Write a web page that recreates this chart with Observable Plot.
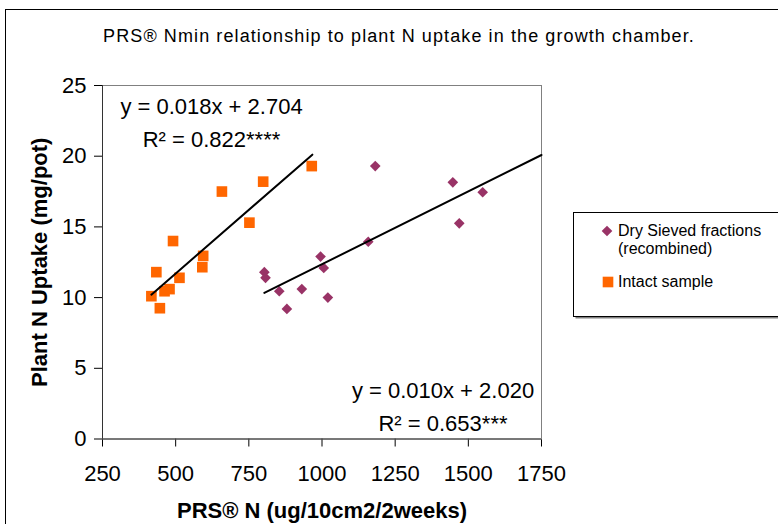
<!DOCTYPE html>
<html>
<head>
<meta charset="utf-8">
<script src="https://cdn.jsdelivr.net/npm/d3@7"></script>
<script src="https://cdn.jsdelivr.net/npm/@observablehq/plot@0.6"></script>
<style>
  html, body { margin: 0; padding: 0; background: #fff; overflow: hidden; }
  #wrap { position: relative; width: 778px; height: 524px; font-family: "Liberation Sans", Arial, sans-serif; }
  #border { position: absolute; left: 5px; top: 9px; width: 800px; height: 600px; border-left: 1px solid #000; border-top: 1px solid #000; pointer-events: none; }
  #title { position: absolute; left: 0; width: 798px; top: 26px; text-align: center; font-size: 18px; letter-spacing: 1.1px; color: #000; white-space: nowrap; }
  #legend { position: absolute; left: 573px; top: 212px; }
</style>
</head>
<body>
<div id="wrap">
  <div id="border"></div>
  <div id="title">PRS® Nmin relationship to plant N uptake in the growth chamber.</div>
  <div id="chart"></div>
  <div id="legend"></div>
</div>
<script>
// ---- data ----
const sievedX = [803, 807, 854, 880, 931, 995, 1006, 1020, 1158, 1182, 1447, 1469, 1549];
const sievedY = [11.8, 11.4, 10.45, 9.2, 10.6, 12.9, 12.1, 10.0, 13.95, 19.3, 18.15, 15.25, 17.45];
const intactX = [417, 446, 434, 462, 479, 491, 513, 591, 594, 658, 752, 799, 965];
const intactY = [10.1, 9.25, 11.8, 10.45, 10.6, 14.0, 11.4, 12.15, 12.95, 17.5, 15.3, 18.2, 19.3];

const seriesNames = ["Dry Sieved fractions (recombined)", "Intact sample"];
const trendSlope = [0.0103, 0.018];
const trendIntercept = [2.06, 2.704];
const trendXStart = [803, 417];
const trendXEnd = [1750, 967];

const eqTop = ["y = 0.018x + 2.704", "R² = 0.822****"];
const eqBottom = ["y = 0.010x + 2.020", "R² = 0.653***"];

const xDomain = [250, 1750];
const yDomain = [0, 25];
const xTicks = [250, 500, 750, 1000, 1250, 1500, 1750];
const yTicks = [0, 5, 10, 15, 20, 25];
const xLabel = "PRS® N (ug/10cm2/2weeks)";
const yLabel = "Plant N Uptake (mg/pot)";

// ---- build tables ----
const sieved = sievedX.map((x, i) => ({x, y: sievedY[i]}));
const intact = intactX.map((x, i) => ({x, y: intactY[i]}));
const trends = seriesNames.flatMap((s, i) => [trendXStart[i], trendXEnd[i]].map(x => ({s, x, y: trendSlope[i] * x + trendIntercept[i]})));

const font = '"Liberation Sans", Arial, sans-serif';

const chart = Plot.plot({
  width: 778,
  height: 524,
  marginLeft: 102,
  marginRight: 237,
  marginTop: 85,
  marginBottom: 85.5,
  style: {fontFamily: font, fontSize: "22px", color: "#000", background: "transparent", overflow: "visible"},
  x: {domain: xDomain, ticks: xTicks, tickSize: 8, tickPadding: 18, tickFormat: d => String(d), label: null},
  y: {domain: yDomain, ticks: yTicks, tickSize: 8, tickPadding: 8, tickFormat: d => String(d), label: null},
  marks: [
    Plot.frame({stroke: "#808080"}),
    Plot.ruleX([xDomain[0]], {stroke: "#333"}),
    Plot.ruleY([yDomain[0]], {stroke: "#333"}),
    Plot.dot(sieved, {x: "x", y: "y", symbol: "diamond2", r: 4.8, fill: "#993366", stroke: "none"}),
    Plot.dot(intact, {x: "x", y: "y", symbol: "square", r: 6, fill: "#FF6600", stroke: "none"}),
    Plot.line(trends, {x: "x", y: "y", z: "s", stroke: "#000", strokeWidth: 2}),
    Plot.text([eqTop.join("\n")], {text: d => d, frameAnchor: "top-left", dx: 109, dy: 61.5, lineAnchor: "bottom", lineHeight: 1.5, textAnchor: "middle", fontSize: 22, fill: "#000"}),
    Plot.text([eqBottom.join("\n")], {text: d => d, frameAnchor: "bottom-left", dx: 340.5, dy: -8.5, lineAnchor: "bottom", lineHeight: 1.5, textAnchor: "middle", fontSize: 22, fill: "#000"}),
    Plot.text([xLabel], {text: d => d, frameAnchor: "bottom", dy: 78.5, lineAnchor: "bottom", textAnchor: "middle", fontWeight: "bold", fontSize: 22, fill: "#000"}),
    Plot.text([yLabel], {text: d => d, frameAnchor: "left", dx: -56, rotate: -90, lineAnchor: "bottom", textAnchor: "middle", fontWeight: "bold", fontSize: 22, fill: "#000"})
  ]
});
document.getElementById("chart").appendChild(chart);

// ---- legend ----
const lg = d3.select("#legend").append("svg")
  .attr("width", 210).attr("height", 112)
  .style("font-family", font).style("overflow", "visible");
lg.append("rect").attr("x", 2.5).attr("y", 2.5).attr("width", 210).attr("height", 104).attr("fill", "#808080");
lg.append("rect").attr("x", 0.5).attr("y", 0.5).attr("width", 210).attr("height", 104).attr("fill", "#fff").attr("stroke", "#000");
lg.append("path").attr("d", d3.symbol(d3.symbolDiamond2, Math.PI * 4.8 * 4.8)()).attr("transform", "translate(34,19)").attr("fill", "#993366");
lg.append("text").attr("x", 45).attr("y", 24).attr("font-size", 16).text("Dry Sieved fractions");
lg.append("text").attr("x", 45).attr("y", 41.5).attr("font-size", 16).text("(recombined)");
lg.append("path").attr("d", d3.symbol(d3.symbolSquare, Math.PI * 6 * 6)()).attr("transform", "translate(35,70)").attr("fill", "#FF6600");
lg.append("text").attr("x", 45).attr("y", 74.5).attr("font-size", 16).text(seriesNames[1]);
</script>
</body>
</html>
